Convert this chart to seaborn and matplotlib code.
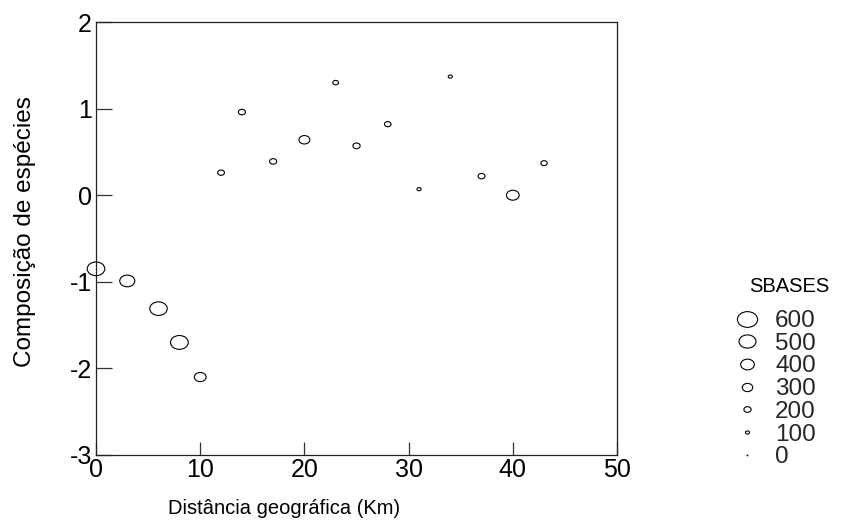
import matplotlib
matplotlib.use("Agg")
import matplotlib.pyplot as plt
from matplotlib.path import Path
from matplotlib.lines import Line2D
import seaborn as sns
import pandas as pd

# Geographic distance between sites (km)
distancia = [0, 3, 6, 8, 10, 12, 14, 17, 20, 23, 25, 28, 31, 34, 37, 40, 43]
# Species composition axis score
composicao = [-0.85, -0.99, -1.31, -1.70, -2.10, 0.26, 0.96, 0.39, 0.64,
              1.30, 0.57, 0.82, 0.07, 1.37, 0.22, 0.00, 0.37]
# Bubble variable
sbases = [520, 440, 515, 525, 340, 185, 195, 195, 310,
          150, 200, 180, 100, 100, 190, 370, 170]

legend_values = [600, 500, 400, 300, 200, 100, 0]

df = pd.DataFrame({"Distancia": distancia, "Composicao": composicao,
                   "SBASES": sbases})

sns.set_theme(style="white")
plt.rcParams["font.family"] = ["Liberation Sans", "DejaVu Sans"]
plt.rcParams["axes.unicode_minus"] = False


def diameter(v):
    # symbol diameter (points) grows linearly with the value
    return 0.6 + v * 0.0232


# Slightly flattened open ellipse used as the bubble symbol
circ = Path.unit_circle()
ellipse = Path(circ.vertices * [1.0, 0.78], circ.codes)

size_map = {v: diameter(v) ** 2 for v in set(sbases)}

fig = plt.figure(figsize=(8.55, 5.22), dpi=100)
ax = fig.add_axes([96 / 855, 1 - 455 / 522, (617 - 96) / 855, (455 - 22) / 522])

sns.scatterplot(data=df, x="Distancia", y="Composicao", size="SBASES",
                sizes=size_map, marker=ellipse, facecolor="none",
                edgecolor="black", linewidth=0.8, legend=False, ax=ax,
                clip_on=False, zorder=3)

ax.set_xlim(0, 50)
ax.set_ylim(-3, 2)
ax.set_xticks([0, 10, 20, 30, 40, 50])
ax.set_yticks([-3, -2, -1, 0, 1, 2])

for s in ax.spines.values():
    s.set_color("#222222")
    s.set_linewidth(0.9)
    s.set_visible(True)

ax.tick_params(axis="y", direction="in", length=11.5, width=0.9,
               color="#333333", labelsize=18, pad=3, left=True,
               labelcolor="black")
ax.tick_params(axis="x", direction="in", length=9.5, width=0.9,
               color="#333333", labelsize=18, pad=2.5, bottom=True,
               labelcolor="black")

ax.set_xlabel("Distância geográfica (Km)", fontsize=14.5, color="black")
ax.xaxis.set_label_coords(0.361, -0.102)
ax.set_ylabel("Composição de espécies", fontsize=17.5, color="black")
ax.yaxis.set_label_coords(-0.116, 0.517)

handles = [Line2D([], [], linestyle="", marker=ellipse,
                  markersize=diameter(v), markerfacecolor="none",
                  markeredgecolor="black", markeredgewidth=0.8)
           for v in legend_values]
leg = fig.legend(handles, [str(v) for v in legend_values],
                 loc="upper left", bbox_to_anchor=(735 / 855, 1 - 310 / 522),
                 frameon=False, fontsize=17.5,
                 labelspacing=0.03, handlelength=1.0, handletextpad=0.65,
                 borderpad=0, borderaxespad=0)
fig.text(749 / 855, 1 - 287 / 522, "SBASES", fontsize=14.5, color="black",
         ha="left", va="center")

fig.savefig("out.png", dpi=100)
